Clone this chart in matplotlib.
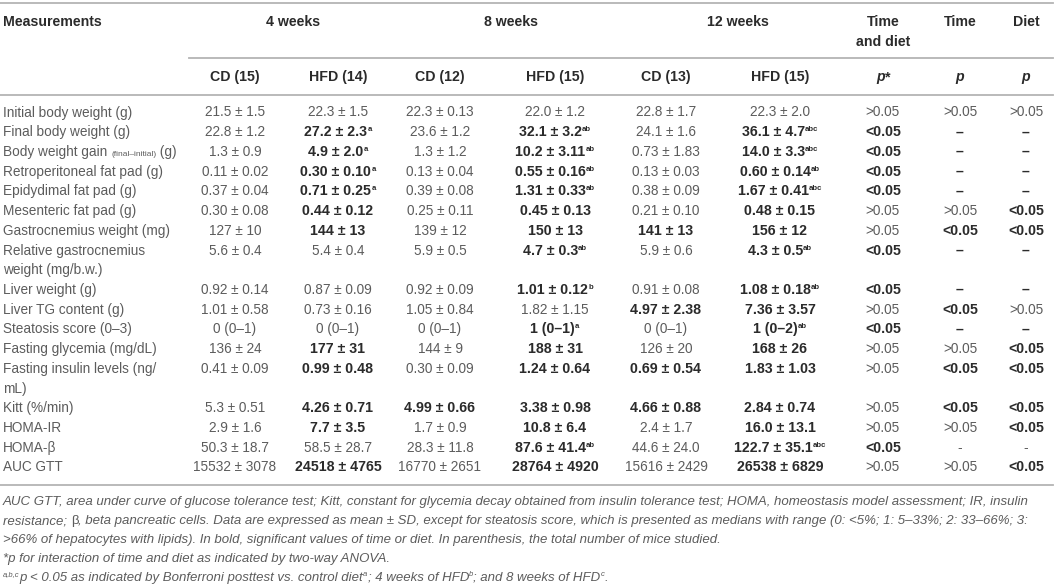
import matplotlib
matplotlib.use("Agg")
import matplotlib.pyplot as plt
from matplotlib.lines import Line2D

# table content
measurements = [
    "Initial body weight (g)", "Final body weight (g)", "Body weight gain {(final–initial)} (g)",
    "Retroperitoneal fat pad (g)", "Epidydimal fat pad (g)", "Mesenteric fat pad (g)",
    "Gastrocnemius weight (mg)", "Relative gastrocnemius\nweight (mg/b.w.)", "Liver weight (g)",
    "Liver TG content (g)", "Steatosis score (0–3)", "Fasting glycemia (mg/dL)",
    "Fasting insulin levels (ng/\nmL)", "Kitt (%/min)", "HOMA-IR", "HOMA-β", "AUC GTT",
]
# "*" = bold value, "^" = superscript letters
cd_4w = ["21.5 ± 1.5", "22.8 ± 1.2", "1.3 ± 0.9", "0.11 ± 0.02", "0.37 ± 0.04", "0.30 ± 0.08",
         "127 ± 10", "5.6 ± 0.4", "0.92 ± 0.14", "1.01 ± 0.58", "0 (0–1)", "136 ± 24",
         "0.41 ± 0.09", "5.3 ± 0.51", "2.9 ± 1.6", "50.3 ± 18.7", "15532 ± 3078"]
hfd_4w = ["22.3 ± 1.5", "*27.2 ± 2.3^a", "*4.9 ± 2.0^a", "*0.30 ± 0.10^a", "*0.71 ± 0.25^a",
          "*0.44 ± 0.12", "*144 ± 13", "5.4 ± 0.4", "0.87 ± 0.09", "0.73 ± 0.16", "0 (0–1)",
          "*177 ± 31", "*0.99 ± 0.48", "*4.26 ± 0.71", "*7.7 ± 3.5", "58.5 ± 28.7", "*24518 ± 4765"]
cd_8w = ["22.3 ± 0.13", "23.6 ± 1.2", "1.3 ± 1.2", "0.13 ± 0.04", "0.39 ± 0.08", "0.25 ± 0.11",
         "139 ± 12", "5.9 ± 0.5", "0.92 ± 0.09", "1.05 ± 0.84", "0 (0–1)", "144 ± 9",
         "0.30 ± 0.09", "*4.99 ± 0.66", "1.7 ± 0.9", "28.3 ± 11.8", "16770 ± 2651"]
hfd_8w = ["22.0 ± 1.2", "*32.1 ± 3.2^ab", "*10.2 ± 3.11^ab", "*0.55 ± 0.16^ab", "*1.31 ± 0.33^ab",
          "*0.45 ± 0.13", "*150 ± 13", "*4.7 ± 0.3^ab", "*1.01 ± 0.12^b", "1.82 ± 1.15",
          "*1 (0–1)^a", "*188 ± 31", "*1.24 ± 0.64", "*3.38 ± 0.98", "*10.8 ± 6.4",
          "*87.6 ± 41.4^ab", "*28764 ± 4920"]
cd_12w = ["22.8 ± 1.7", "24.1 ± 1.6", "0.73 ± 1.83", "0.13 ± 0.03", "0.38 ± 0.09", "0.21 ± 0.10",
          "*141 ± 13", "5.9 ± 0.6", "0.91 ± 0.08", "*4.97 ± 2.38", "0 (0–1)", "126 ± 20",
          "*0.69 ± 0.54", "*4.66 ± 0.88", "2.4 ± 1.7", "44.6 ± 24.0", "15616 ± 2429"]
hfd_12w = ["22.3 ± 2.0", "*36.1 ± 4.7^abc", "*14.0 ± 3.3^abc", "*0.60 ± 0.14^ab", "*1.67 ± 0.41^abc",
           "*0.48 ± 0.15", "*156 ± 12", "*4.3 ± 0.5^ab", "*1.08 ± 0.18^ab", "*7.36 ± 3.57",
           "*1 (0–2)^ab", "*168 ± 26", "*1.83 ± 1.03", "*2.84 ± 0.74", "*16.0 ± 13.1",
           "*122.7 ± 35.1^abc", "*26538 ± 6829"]
p_interaction = [">0.05", "*<0.05", "*<0.05", "*<0.05", "*<0.05", ">0.05", ">0.05", "*<0.05",
                 "*<0.05", ">0.05", "*<0.05", ">0.05", ">0.05", ">0.05", ">0.05", "*<0.05", ">0.05"]
p_time = [">0.05", "*–", "*–", "*–", "*–", ">0.05", "*<0.05", "*–", "*–", "*<0.05", "*–",
          ">0.05", "*<0.05", "*<0.05", ">0.05", "-", ">0.05"]
p_diet = [">0.05", "*–", "*–", "*–", "*–", "*<0.05", "*<0.05", "*–", "*–", ">0.05", "*–",
          "*<0.05", "*<0.05", "*<0.05", "*<0.05", "-", "*<0.05"]

groups = ["4 weeks", "8 weeks", "12 weeks"]
sub_headers = ["CD (15)", "HFD (14)", "CD (12)", "HFD (15)", "CD (13)", "HFD (15)"]
columns = [cd_4w, hfd_4w, cd_8w, hfd_8w, cd_12w, hfd_12w, p_interaction, p_time, p_diet]

footnotes = [
    "AUC GTT, area under curve of glucose tolerance test; Kitt, constant for glycemia decay obtained from insulin tolerance test; HOMA, homeostasis model assessment; IR, insulin",
    "resistance; |β|, beta pancreatic cells. Data are expressed as mean ± SD, except for steatosis score, which is presented as medians with range (0: <5%; 1: 5–33%; 2: 33–66%; 3:",
    ">66% of hepatocytes with lipids). In bold, significant values of time or diet. In parenthesis, the total number of mice studied.",
    "*p for interaction of time and diet as indicated by two-way ANOVA.",
]

W, H = 1056, 585
fig = plt.figure(figsize=(W / 100, H / 100), dpi=100)
fig.patch.set_facecolor("white")
renderer = fig.canvas.get_renderer()
FAM = ["Liberation Sans", "DejaVu Sans"]
GREY = "#5c5c5c"
DARK = "#2b2b2b"
LINE = "#b4b4b4"
FS = 9.8
FB = 10.2


def put(x, y, parts, ha="left"):
    # parts: (text, size, weight, style, color, dy) drawn side by side, y is baseline in px
    arts = []
    for text, size, weight, style, color, dy in parts:
        t = fig.text(0, 0, text, fontsize=size, fontweight=weight, fontstyle=style,
                     color=color, family=FAM, va="baseline", ha="left")
        arts.append((t, t.get_window_extent(renderer).width, dy))
    total = sum(w for _, w, _ in arts)
    cur = x - total / 2 if ha == "center" else x
    for t, w, dy in arts:
        t.set_position((cur / W, 1 - (y + dy) / H))
        cur += w


def cell(x, y, s):
    bold = s.startswith("*")
    s = s.lstrip("*")
    main, _, sup = s.partition("^")
    weight = "bold" if bold else "normal"
    color = DARK if bold else GREY
    size = FB if bold else FS
    parts = [(main, size, weight, "normal", color, 0)]
    if sup:
        parts.append((sup, size * 0.55, weight, "normal", color, -5))
    put(x, y, parts, ha="center")


def hline(y, x0=0, x1=1053, lw=1.3):
    fig.add_artist(Line2D([x0 / W, x1 / W], [1 - y / H, 1 - y / H], color=LINE, lw=lw,
                          transform=fig.transFigure))


col_x = [235, 338, 440, 555, 666, 780, 883, 960, 1026]
group_x = [293, 511, 738]

# header
hline(2.5)
put(3, 25.5, [("Measurements", FB, "bold", "normal", DARK, 0)])
for gx, g in zip(group_x, groups):
    put(gx, 25.5, [(g, FB, "bold", "normal", DARK, 0)], ha="center")
put(col_x[6], 25.5, [("Time", FB, "bold", "normal", DARK, 0)], ha="center")
put(col_x[6], 46.5, [("and diet", FB, "bold", "normal", DARK, 0)], ha="center")
put(col_x[7], 25.5, [("Time", FB, "bold", "normal", DARK, 0)], ha="center")
put(col_x[8], 25.5, [("Diet", FB, "bold", "normal", DARK, 0)], ha="center")
hline(57.5, x0=189)
for cx, h in zip(col_x, sub_headers):
    put(cx, 81.5, [(h, FB, "bold", "normal", DARK, 0)], ha="center")
put(col_x[6], 81.5, [("p", FB, "bold", "italic", DARK, 0), ("*", FB, "bold", "normal", DARK, 0)], ha="center")
put(col_x[7], 81.5, [("p", FB, "bold", "italic", DARK, 0)], ha="center")
put(col_x[8], 81.5, [("p", FB, "bold", "italic", DARK, 0)], ha="center")
hline(95)

# body
step = 19.72
line_no = 0
for i, label in enumerate(measurements):
    yb = 112 + step * line_no + 4.5
    if "{" in label:
        pre, rest = label.split("{")
        mid, post = rest.split("}")
        put(3, yb, [(pre, FS, "normal", "normal", GREY, 0),
                    (mid, FS * 0.62, "normal", "normal", GREY, 0.5),
                    (post, FS, "normal", "normal", GREY, 0)])
    else:
        for k, ln in enumerate(label.split("\n")):
            put(3, yb + k * step, [(ln, FS, "normal", "normal", GREY, 0)])
    for cx, col in zip(col_x, columns):
        cell(cx, yb, col[i])
    line_no += label.count("\n") + 1

hline(485)

# footnotes
FN = 9.5
fy = [505, 524, 543, 562, 581]
for y, txt in zip(fy, footnotes):
    parts = []
    for k, seg in enumerate(txt.split("|")):
        parts.append((seg, FN, "normal", "normal" if k % 2 else "italic", GREY, 0))
    put(3, y, parts)
sup = FN * 0.58
put(3, fy[4], [("a,b,c", sup, "normal", "italic", GREY, -5),
               ("p < 0.05 as indicated by Bonferroni posttest vs. control diet", FN, "normal", "italic", GREY, 0),
               ("a", sup, "normal", "italic", GREY, -5),
               ("; 4 weeks of HFD", FN, "normal", "italic", GREY, 0),
               ("b", sup, "normal", "italic", GREY, -5),
               ("; and 8 weeks of HFD", FN, "normal", "italic", GREY, 0),
               ("c", sup, "normal", "italic", GREY, -5),
               (".", FN, "normal", "italic", GREY, 0)])

fig.savefig("out.png", dpi=100, facecolor="white")
